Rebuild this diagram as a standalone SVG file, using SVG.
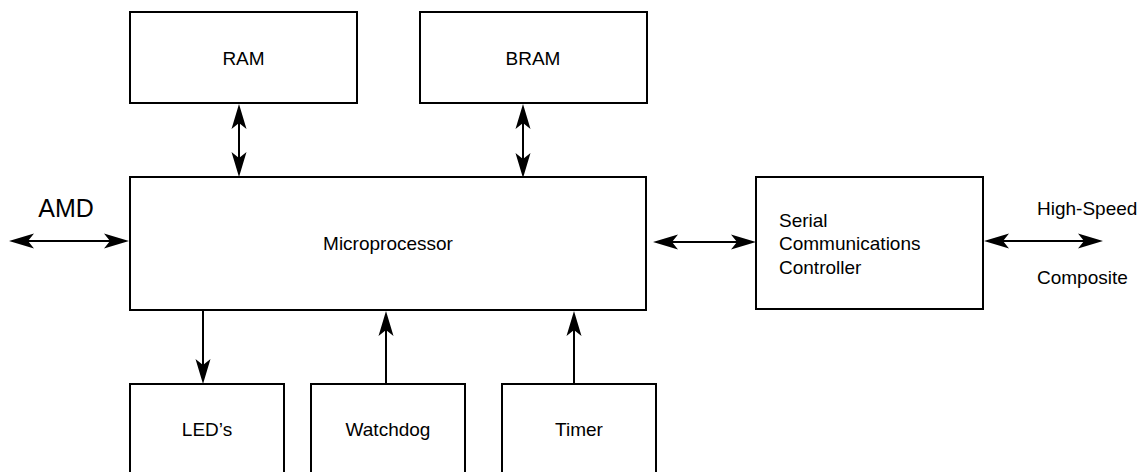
<svg xmlns="http://www.w3.org/2000/svg" width="1146" height="472" viewBox="0 0 1146 472">
  <style>
    .box { fill: #ffffff; stroke: #000000; stroke-width: 2; }
    .lbl { font-family: "Liberation Sans", Arial, sans-serif; font-size: 19px; fill: #000000; }
    .mid { text-anchor: middle; }
    .big { font-size: 25px; }
    .wire { fill: none; stroke: #000000; stroke-width: 2; }
  </style>
  <defs>
    <!-- barbed arrowhead; the tip sits 10 units past the line end -->
    <marker id="head" viewBox="0 0 26 16" refX="16" refY="8" markerWidth="26" markerHeight="16" markerUnits="userSpaceOnUse" orient="auto-start-reverse">
      <path d="M26,8 L1,0.5 L7,8 L1,15.5 Z" fill="#000000"/>
    </marker>
  </defs>
  <rect width="1146" height="472" fill="#ffffff"/>

  <g id="ram">
    <rect class="box" x="130" y="12" width="227" height="91"/>
    <text class="lbl mid" x="243.5" y="65">RAM</text>
  </g>
  <g id="bram">
    <rect class="box" x="420" y="12" width="227" height="91"/>
    <text class="lbl mid" x="533" y="65">BRAM</text>
  </g>
  <g id="microprocessor">
    <rect class="box" x="130" y="177" width="516" height="133"/>
    <text class="lbl mid" x="388" y="250">Microprocessor</text>
  </g>
  <g id="serial-controller">
    <rect class="box" x="756" y="177" width="227" height="132"/>
    <text class="lbl" x="779" y="227">Serial</text>
    <text class="lbl" x="779" y="250">Communications</text>
    <text class="lbl" x="779" y="274">Controller</text>
  </g>
  <g id="leds">
    <rect class="box" x="130" y="384" width="154" height="100"/>
    <text class="lbl mid" x="207" y="436">LED’s</text>
  </g>
  <g id="watchdog">
    <rect class="box" x="311" y="384" width="154" height="100"/>
    <text class="lbl mid" x="388" y="436">Watchdog</text>
  </g>
  <g id="timer">
    <rect class="box" x="502" y="384" width="154" height="100"/>
    <text class="lbl mid" x="579" y="436">Timer</text>
  </g>

  <g id="external-labels">
    <text class="lbl big mid" x="66" y="217">AMD</text>
    <text class="lbl" x="1037" y="215">High-Speed</text>
    <text class="lbl" x="1037" y="284">Composite</text>
  </g>

  <g id="connectors">
    <line class="wire" x1="19" y1="241" x2="119" y2="241" marker-start="url(#head)" marker-end="url(#head)"/>
    <line class="wire" x1="239" y1="114" x2="239" y2="167" marker-start="url(#head)" marker-end="url(#head)"/>
    <line class="wire" x1="523" y1="114" x2="523" y2="168" marker-start="url(#head)" marker-end="url(#head)"/>
    <line class="wire" x1="663" y1="242" x2="746" y2="242" marker-start="url(#head)" marker-end="url(#head)"/>
    <line class="wire" x1="994" y1="241" x2="1093" y2="241" marker-start="url(#head)" marker-end="url(#head)"/>
    <line class="wire" x1="203" y1="310" x2="203" y2="374" marker-end="url(#head)"/>
    <line class="wire" x1="386" y1="384" x2="386" y2="321" marker-end="url(#head)"/>
    <line class="wire" x1="574" y1="384" x2="574" y2="321" marker-end="url(#head)"/>
  </g>
</svg>
